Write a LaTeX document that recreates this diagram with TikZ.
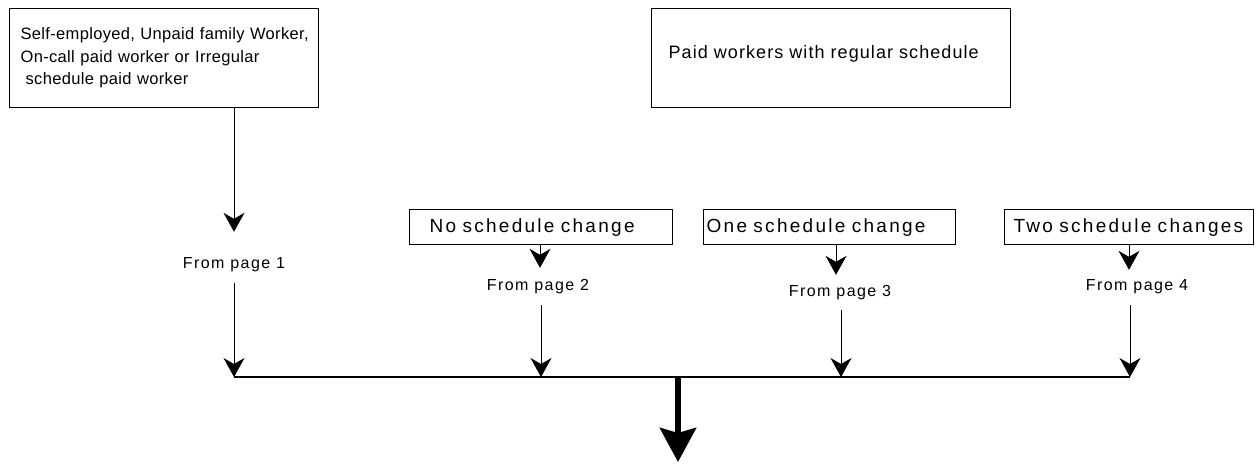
\documentclass[tikz,border=0pt]{standalone}
\usepackage{fontspec}
\setmainfont{Liberation Sans}[LetterSpace=12]
\newfontfamily\boxonefont{Liberation Sans}[LetterSpace=2]
\newfontfamily\boxtwofont{Liberation Sans}[LetterSpace=6]
\newfontfamily\pagefont{Liberation Sans}[LetterSpace=9]
\usetikzlibrary{arrows.meta}
\begin{document}
\begin{tikzpicture}[x=1pt,y=-1pt,
  bigbox/.style={draw, line width=1.3pt, inner ysep=0pt, align=left, anchor=north west, minimum height=99pt},
  smallbox/.style={draw, line width=1.3pt, font=\fontsize{19}{23}\selectfont, inner ysep=0pt, minimum height=35pt, anchor=north west, align=left},
  frompage/.style={font=\pagefont\fontsize{16}{18}\selectfont, inner sep=0pt, anchor=base},
  thinarrow/.style={line width=1pt, -{Stealth[length=19pt,width=21pt,inset=6pt]}},
  bar/.style={line width=2.6pt},
  bigarrow/.style={line width=6.5pt, -{Stealth[length=34pt,width=36pt,inset=5pt]}}
]
\useasboundingbox (0,0) rectangle (1260,464);

% top boxes
\node[bigbox, font=\boxonefont\fontsize{16.5}{22.5}\selectfont, text width=287pt, inner xsep=11pt] (b1) at (9,8)
  {\raisebox{12pt}{\parbox{287pt}{\mbox{Self-employed, Unpaid family Worker,}\\On-call paid worker or Irregular\\\hspace*{5pt}schedule paid worker}}};
\node[bigbox, font=\boxtwofont\fontsize{18}{20}\selectfont, text width=325pt, inner xsep=17pt] (b2) at (651,8)
  {\raisebox{12pt}{\mbox{Paid workers with regular schedule}}};

% schedule-change boxes
\node[smallbox, text width=223pt, inner xsep=20pt] (n0) at (409,209) {\mbox{No schedule change}};
\node[smallbox, text width=246pt, inner xsep=3pt] (n1) at (703,209) {\mbox{One schedule change}};
\node[smallbox, text width=231pt, inner xsep=9pt] (n2) at (1004,209) {\mbox{Two schedule changes}};

% "From page" labels (text height / depth fix where the connectors meet them)
\node[frompage, text height=36.5pt, text depth=14.5pt] (p1) at (234,268.5) {From page 1};
\node[frompage, text height=22.5pt, text depth=14.5pt] (p2) at (538,290.5) {From page 2};
\node[frompage, text height=21.5pt, text depth=13.5pt] (p3) at (840,296.5) {From page 3};
\node[frompage, text height=20.5pt, text depth=14.5pt] (p4) at (1137,290.5) {From page 4};

% bar coordinates
\coordinate (c1) at (234,377);
\coordinate (c2) at (541,377);
\coordinate (c3) at (841,377);
\coordinate (c4) at (1130,377);
\coordinate (cm) at (678,377);
\coordinate (ce) at (678,462);

% upper arrows
\draw[thinarrow] (b1.south -| c1) -- (p1.north -| c1);
\draw[thinarrow] (n0.south -| 540,0) -- (p2.north -| 540,0);
\draw[thinarrow] (n1.south -| 836,0) -- (p3.north -| 836,0);
\draw[thinarrow] (n2.south -| 1129,0) -- (p4.north -| 1129,0);

% lower arrows
\draw[thinarrow] (p1.south -| c1) -- (c1);
\draw[thinarrow] (p2.south -| c2) -- (c2);
\draw[thinarrow] (p3.south -| c3) -- (c3);
\draw[thinarrow] (p4.south -| c4) -- (c4);

% bar and output arrow
\draw[bar] (c1) -- (c4);
\draw[bigarrow] (cm) -- (ce);
\end{tikzpicture}
\end{document}
